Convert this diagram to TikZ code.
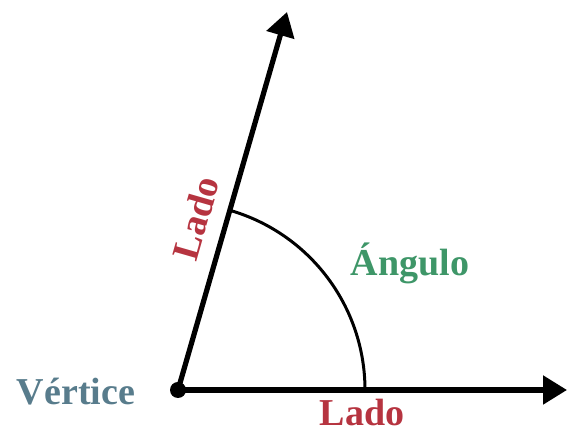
\documentclass[tikz,border=0pt]{standalone}
\usepackage{fontspec}
\setmainfont{Liberation Serif}
\usepackage{xcolor}
\usepackage{tikz}
\usetikzlibrary{positioning,arrows.meta,calc}

\definecolor{vertcol}{RGB}{88,124,140}
\definecolor{ladocol}{RGB}{182,52,64}
\definecolor{angcol}{RGB}{62,150,104}

\begin{document}
\begin{tikzpicture}[x=0.5pt, y=0.5pt, >=Stealth]
  \tikzset{
    ray/.style={line width=2.6pt,-{Triangle[length=12pt,width=14pt]}},
    arcline/.style={line width=1.5pt},
    lbl/.style={font=\bfseries\fontsize{19}{22}\selectfont,inner sep=0pt}
  }
  \useasboundingbox (0,0) rectangle (568,432);
  % Vertex and ray ends
  \node[circle,fill=black,inner sep=0pt,minimum size=8pt] (v) at (178,42) {};
  \coordinate (h) at (567,42);
  \coordinate (u) at (287,420);
  % Rays
  \draw[ray] (v.center) -- (h);
  \draw[ray] (v.center) -- (u);
  % Angle arc
  \coordinate (a0) at ($(v.center)+(187,0)$);
  \draw[arcline] (a0) arc[start angle=0,end angle=74,radius=187];
  % Labels
  \node[lbl,text=vertcol] (vert) at (76,40) {Vértice};
  \node[lbl,text=ladocol] (lado1) at (362,19) {Lado};
  \node[lbl,text=ladocol,rotate=74] (lado2) at (196,214) {Lado};
  \node[lbl,text=angcol] (ang) at (410,169) {Ángulo};
\end{tikzpicture}
\end{document}
